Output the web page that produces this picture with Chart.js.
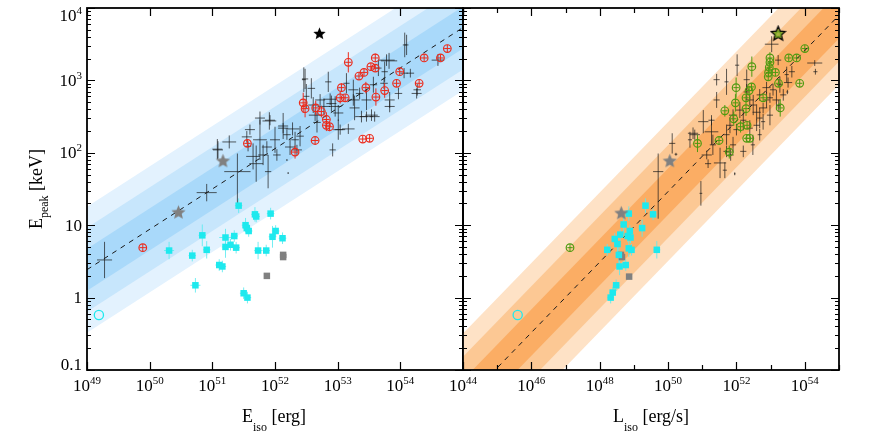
<!DOCTYPE html>
<html>
<head>
<meta charset="utf-8">
<script src="https://cdn.jsdelivr.net/npm/chart.js@4.4.1/dist/chart.umd.min.js"></script>
<style>
  html, body { margin: 0; padding: 0; background: #fff; }
  #wrap { position: relative; width: 873px; height: 436px; }
  #wrap canvas { position: absolute; left: 0; top: 0; }
</style>
</head>
<body>
<div id="wrap">
  <canvas id="leftPanel" width="873" height="436"></canvas>
  <canvas id="rightPanel" width="873" height="436"></canvas>
</div>
<script>
// ---- data (log10 values: [x, y, dx, dy(, dyDown)]) ----

// left panel: Epeak - Eiso
const amatiFitE = [1e49, 1e55];
const amatiFitEp = [2.43, 5370];
const amatiBandDex = [0.29, 0.58, 0.87];

const amatiCrosses = [
  [49.28, 0.52, 0.12, 0.25], [50.91, 1.45, 0.16, 0.12], [51.40, 1.74, 0.21, 0.25, 0.45],
  [51.27, 2.15, 0.11, 0.09], [51.08, 2.05, 0.08, 0.14], [51.57, 2.09, 0.05, 0.07],
  [51.70, 1.85, 0.11, 0.25], [51.76, 2.18, 0.11, 0.28], [51.81, 1.97, 0.08, 0.14],
  [51.89, 1.74, 0.05, 0.23], [51.91, 2.44, 0.11, 0.12], [52.00, 2.18, 0.08, 0.18],
  [52.03, 1.97, 0.06, 0.08], [52.13, 2.37, 0.08, 0.18], [52.19, 2.25, 0.06, 0.07],
  [52.24, 2.08, 0.08, 0.11], [52.28, 2.33, 0.11, 0.09], [52.32, 2.18, 0.06, 0.11],
  [52.35, 2.04, 0.08, 0.07], [52.40, 2.23, 0.06, 0.14], [52.48, 3.02, 0.05, 0.14],
  [52.50, 2.78, 0.05, 0.17], [52.58, 2.89, 0.06, 0.14], [52.61, 2.66, 0.08, 0.11],
  [52.64, 2.52, 0.10, 0.08], [52.67, 2.42, 0.06, 0.14], [52.72, 2.73, 0.08, 0.08],
  [52.78, 2.64, 0.10, 0.11], [52.85, 2.98, 0.05, 0.14], [52.88, 2.74, 0.10, 0.08],
  [52.90, 2.68, 0.08, 0.11], [52.96, 2.64, 0.10, 0.14], [53.01, 2.55, 0.08, 0.11],
  [52.92, 2.04, 0.05, 0.09], [53.01, 2.32, 0.08, 0.14], [53.17, 2.33, 0.10, 0.07],
  [53.14, 2.96, 0.05, 0.14], [53.25, 2.87, 0.08, 0.14], [53.25, 2.73, 0.10, 0.08],
  [53.27, 2.62, 0.08, 0.17], [53.35, 2.82, 0.06, 0.08], [53.38, 2.50, 0.10, 0.08],
  [53.46, 2.73, 0.08, 0.14], [53.54, 2.52, 0.10, 0.08], [53.57, 2.94, 0.06, 0.11],
  [53.65, 3.17, 0.05, 0.11], [53.74, 2.96, 0.06, 0.08], [53.75, 3.12, 0.05, 0.14],
  [53.82, 3.27, 0.13, 0.11], [53.83, 2.73, 0.08, 0.11], [53.97, 2.82, 0.06, 0.08],
  [54.06, 3.10, 0.06, 0.07], [54.10, 3.49, 0.03, 0.14], [54.16, 3.10, 0.06, 0.06],
  [54.27, 2.87, 0.06, 0.08], [54.60, 3.28, 0.10, 0.08], [51.09, 2.04, 0.08, 0.12],
  [51.55, 2.22, 0.08, 0.08], [51.60, 2.32, 0.08, 0.07], [51.65, 1.95, 0.11, 0.18],
  [51.76, 2.48, 0.08, 0.09], [51.92, 2.45, 0.08, 0.07], [51.87, 2.08, 0.08, 0.08],
  [52.13, 2.34, 0.08, 0.07], [52.46, 3.01, 0.03, 0.17], [53.04, 2.32, 0.08, 0.07],
  [53.46, 2.50, 0.11, 0.07], [53.59, 2.50, 0.08, 0.07], [53.83, 2.64, 0.08, 0.08],
  [53.78, 3.28, 0.13, 0.08], [54.07, 3.49, 0.03, 0.17], [54.26, 2.82, 0.08, 0.07],
  [52.19, 1.90, 0.01, 0.01], [52.21, 1.72, 0.01, 0.01]
];

const amatiRedCircles = [
  [49.89, 0.69, 0.05, 0.05], [51.56, 2.13, 0.05, 0.05], [52.32, 2.01, 0.05, 0.09],
  [52.45, 2.69, 0.05, 0.14], [52.48, 2.61, 0.05, 0.12], [52.64, 2.17, 0.05, 0.05],
  [52.65, 2.62, 0.05, 0.10], [52.74, 2.57, 0.05, 0.08], [52.82, 2.46, 0.05, 0.10],
  [52.82, 2.38, 0.05, 0.08], [52.87, 2.36, 0.05, 0.06], [53.04, 2.76, 0.05, 0.08],
  [53.06, 2.90, 0.05, 0.06], [53.12, 2.76, 0.05, 0.05], [53.17, 3.25, 0.05, 0.14],
  [53.34, 3.06, 0.05, 0.05], [53.42, 3.11, 0.05, 0.05], [53.45, 2.90, 0.05, 0.08],
  [53.53, 3.19, 0.05, 0.05], [53.60, 3.17, 0.05, 0.05], [53.60, 3.31, 0.05, 0.06],
  [53.61, 2.77, 0.05, 0.12], [53.40, 2.19, 0.05, 0.05], [53.51, 2.20, 0.05, 0.05],
  [53.75, 2.86, 0.05, 0.10], [53.94, 2.96, 0.05, 0.05], [53.99, 3.12, 0.05, 0.05],
  [54.30, 2.96, 0.05, 0.05], [54.38, 3.31, 0.05, 0.05], [54.64, 3.31, 0.05, 0.05],
  [54.75, 3.44, 0.05, 0.05]
];

const amatiCyanSquares = [
  [51.42, 1.27, 0.06, 0.10], [50.31, 0.65, 0.08, 0.12], [50.68, 0.58, 0.06, 0.08],
  [50.73, 0.17, 0.08, 0.10], [50.84, 0.86, 0.06, 0.15], [50.91, 0.66, 0.06, 0.12],
  [51.11, 0.45, 0.06, 0.08], [51.16, 0.43, 0.06, 0.08], [51.21, 0.83, 0.10, 0.12],
  [51.21, 0.70, 0.06, 0.15], [51.29, 0.73, 0.06, 0.08], [51.35, 0.85, 0.06, 0.08],
  [51.38, 0.69, 0.06, 0.08], [51.50, 0.06, 0.06, 0.08], [51.56, 0.00, 0.06, 0.08],
  [51.53, 1.00, 0.06, 0.10], [51.55, 0.96, 0.06, 0.08], [51.58, 0.92, 0.06, 0.08],
  [51.68, 1.15, 0.06, 0.10], [51.70, 1.12, 0.06, 0.08], [51.73, 0.65, 0.06, 0.12],
  [51.86, 0.65, 0.06, 0.08], [51.93, 1.16, 0.06, 0.08], [51.96, 0.84, 0.06, 0.15],
  [52.01, 0.92, 0.06, 0.08], [52.12, 0.82, 0.06, 0.08]
];
const amatiGreySquares = [[51.87, 0.30], [52.13, 0.59], [52.13, 0.56]];
const amatiCyanCircle = [[49.19, -0.24]];
const amatiGreyStars = [[51.17, 1.89], [50.46, 1.18]];
const amatiBlackStar = [[52.71, 3.65]];

// right panel: Epeak - Liso
const yonFitL = [1e44, 1e55];
const yonFitEp = [0.0349, 7940];
const yonBandDex = [0.32, 0.64, 0.96];

const yonCrosses = [
  [53.03, 3.50, 0.20, 0.11], [54.29, 3.24, 0.22, 0.04], [54.31, 3.12, 0.06, 0.04],
  [53.51, 2.97, 0.12, 0.07], [53.49, 2.84, 0.03, 0.03], [52.02, 3.21, 0.06, 0.15],
  [51.71, 2.98, 0.06, 0.18], [51.03, 2.43, 0.15, 0.16], [51.27, 2.45, 0.09, 0.07],
  [50.78, 2.25, 0.15, 0.07], [51.27, 2.29, 0.20, 0.18], [51.13, 1.97, 0.15, 0.06],
  [51.17, 1.85, 0.09, 0.06], [51.52, 1.86, 0.18, 0.21], [51.66, 1.76, 0.06, 0.11],
  [51.71, 2.02, 0.09, 0.08], [51.83, 1.97, 0.09, 0.08], [51.90, 2.11, 0.09, 0.11],
  [52.20, 2.02, 0.09, 0.08], [50.96, 1.44, 0.04, 0.17], [49.71, 1.74, 0.15, 0.25, 0.65],
  [50.12, 2.13, 0.09, 0.14], [50.23, 1.98, 0.04, 0.02], [51.95, 1.71, 0.02, 0.02],
  [50.73, 2.27, 0.15, 0.08], [53.22, 3.28, 0.09, 0.07], [52.30, 2.84, 0.09, 0.11],
  [52.39, 2.73, 0.12, 0.08], [52.49, 2.66, 0.09, 0.14], [52.59, 2.56, 0.12, 0.11],
  [52.68, 2.80, 0.09, 0.08], [52.68, 2.48, 0.09, 0.14], [52.78, 2.62, 0.12, 0.07],
  [52.88, 2.73, 0.09, 0.11], [52.98, 2.52, 0.09, 0.14], [53.07, 2.87, 0.09, 0.08],
  [53.17, 2.73, 0.12, 0.14], [53.27, 2.94, 0.09, 0.11], [53.37, 2.80, 0.09, 0.08],
  [53.47, 3.08, 0.06, 0.11], [52.10, 2.59, 0.12, 0.11], [52.20, 2.45, 0.09, 0.14],
  [52.00, 2.32, 0.09, 0.08], [51.90, 2.52, 0.12, 0.08], [51.81, 2.38, 0.09, 0.11],
  [51.71, 2.25, 0.09, 0.14], [52.39, 2.34, 0.09, 0.11], [52.59, 2.38, 0.09, 0.08],
  [52.78, 2.43, 0.06, 0.11], [52.98, 2.76, 0.09, 0.07], [51.42, 2.73, 0.09, 0.11],
  [52.30, 3.01, 0.09, 0.14], [52.88, 2.90, 0.12, 0.08], [53.62, 3.12, 0.09, 0.08],
  [52.48, 2.11, 0.06, 0.14], [52.68, 2.25, 0.06, 0.08], [53.24, 2.65, 0.06, 0.08],
  [51.31, 2.11, 0.09, 0.14], [51.42, 3.01, 0.09, 0.08], [50.64, 2.18, 0.06, 0.11]
];

const yonGreenCircles = [
  [54.00, 3.44, 0.08, 0.05], [53.53, 3.31, 0.08, 0.05], [53.76, 3.31, 0.08, 0.05],
  [52.98, 3.31, 0.08, 0.08], [52.98, 3.25, 0.08, 0.05], [52.45, 3.19, 0.08, 0.14],
  [52.96, 3.18, 0.08, 0.05], [53.14, 3.11, 0.08, 0.05], [52.94, 3.11, 0.08, 0.05],
  [52.93, 3.05, 0.08, 0.05], [53.23, 2.96, 0.08, 0.05], [53.85, 2.96, 0.08, 0.05],
  [51.99, 2.90, 0.08, 0.14], [52.44, 2.91, 0.08, 0.05], [52.37, 2.86, 0.08, 0.05],
  [52.28, 2.76, 0.08, 0.05], [52.78, 2.76, 0.08, 0.05], [51.97, 2.69, 0.08, 0.12],
  [52.28, 2.61, 0.08, 0.10], [53.28, 2.62, 0.08, 0.12], [51.66, 2.58, 0.08, 0.08],
  [51.92, 2.47, 0.08, 0.10], [52.12, 2.36, 0.08, 0.08], [52.31, 2.38, 0.08, 0.05],
  [52.30, 2.20, 0.08, 0.05], [52.39, 2.20, 0.08, 0.05], [51.49, 2.17, 0.08, 0.05],
  [50.86, 2.13, 0.08, 0.12], [51.79, 2.01, 0.08, 0.09], [47.13, 0.69, 0.08, 0.05]
];

const yonCyanSquares = [
  [49.34, 1.27, 0.10, 0.10], [48.85, 1.16, 0.10, 0.10], [49.56, 1.15, 0.10, 0.08],
  [48.70, 1.01, 0.10, 0.12], [49.24, 0.96, 0.10, 0.12], [48.88, 0.92, 0.10, 0.08],
  [48.60, 0.87, 0.10, 0.08], [48.82, 0.85, 0.10, 0.08], [48.90, 0.83, 0.10, 0.08],
  [48.44, 0.81, 0.10, 0.08], [48.52, 0.74, 0.10, 0.12], [48.22, 0.66, 0.10, 0.08],
  [48.85, 0.68, 0.10, 0.12], [48.93, 0.66, 0.10, 0.08], [49.67, 0.66, 0.10, 0.12],
  [48.56, 0.59, 0.10, 0.12], [48.76, 0.45, 0.10, 0.08], [48.58, 0.43, 0.10, 0.12],
  [48.48, 0.17, 0.10, 0.08], [48.38, 0.07, 0.10, 0.08], [48.32, 0.00, 0.10, 0.08]
];
const yonGreySquares = [[48.62, 0.59], [48.65, 0.56], [48.86, 0.29]];
const yonCyanCircle = [[45.60, -0.24]];
const yonGreyStars = [[50.05, 1.89], [48.63, 1.17]];
const yonBlackStar = [[53.22, 3.65]];

// axis ticks and labels
const yTickValues = [0.1, 1, 10, 100, 1000, 10000];
const yTickBase = ['0.1', '1', '10', '10', '10', '10'];
const yTickSup = ['', '', '', '2', '3', '4'];
const leftXMajorExp = [49, 50, 51, 52, 53, 54, 55];
const leftXLabelExp = [49, 50, 51, 52, 53, 54];
const rightXMajorExp = [44, 46, 48, 50, 52, 54];
const rightXMinorExp = [45, 47, 49, 51, 53, 55];
const rightXLabelExp = [44, 46, 48, 50, 52, 54];

// ---- helpers ----
const SERIF = "'Liberation Serif', 'Times New Roman', serif";

function toPoints(rows) {
  return rows.map(r => ({ x: Math.pow(10, r[0]), y: Math.pow(10, r[1]) }));
}

function starImage(size, fill, stroke, ring) {
  const c = document.createElement('canvas');
  c.width = c.height = size;
  const g = c.getContext('2d');
  const R = size / 2 - 1, r = R * 0.45, m = size / 2;
  g.beginPath();
  for (let k = 0; k < 10; k++) {
    const a = -Math.PI / 2 + k * Math.PI / 5;
    const rr = k % 2 ? r : R;
    g.lineTo(m + rr * Math.cos(a), m + 0.5 + rr * Math.sin(a));
  }
  g.closePath();
  g.fillStyle = fill;
  g.fill();
  if (stroke) { g.strokeStyle = stroke; g.lineWidth = 1.3; g.stroke(); }
  if (ring) {
    g.beginPath(); g.arc(m, m + 1, 2.8, 0, Math.PI * 2);
    g.strokeStyle = ring; g.lineWidth = 1; g.stroke();
  }
  return c;
}

function bandDatasets(fitX, fitY, dexList, colors) {
  const sets = [];
  dexList.forEach((d, i) => {
    sets.push({
      type: 'line', data: fitX.map((x, k) => ({ x, y: fitY[k] * Math.pow(10, d) })),
      fill: '+1', backgroundColor: colors[i], borderColor: 'transparent',
      borderWidth: 0, pointRadius: 0, order: 10 + i
    });
    sets.push({
      type: 'line', data: fitX.map((x, k) => ({ x, y: fitY[k] / Math.pow(10, d) })),
      fill: false, borderColor: 'transparent', borderWidth: 0, pointRadius: 0, order: 10 + i
    });
  });
  return sets;
}

function fitDataset(fitX, fitY) {
  return {
    type: 'line', data: fitX.map((x, k) => ({ x, y: fitY[k] })),
    borderColor: '#1a1a1a', borderWidth: 1, borderDash: [5, 5],
    pointRadius: 0, fill: false, order: 6
  };
}

function markerSet(rows, style, opts) {
  return Object.assign({
    type: 'scatter', data: toPoints(rows), pointStyle: style,
    errorBars: rows[0] && rows[0].length > 2 ? rows : null
  }, opts);
}

function drawRuns(ctx, runs, x, y, align) {
  let total = 0;
  runs.forEach(r => { ctx.font = r[1] + 'px ' + SERIF; total += ctx.measureText(r[0]).width; });
  let cx = align === 'center' ? x - total / 2 : align === 'right' ? x - total : x;
  runs.forEach(r => {
    ctx.font = r[1] + 'px ' + SERIF;
    ctx.fillText(r[0], cx, y + r[2]);
    cx += ctx.measureText(r[0]).width;
  });
}

// error bars drawn through the chart scales
const errorBarPlugin = {
  id: 'errorBars',
  beforeDatasetsDraw(chart) {
    const { ctx, chartArea: a } = chart;
    const xs = chart.scales.x, ys = chart.scales.y;
    ctx.save();
    ctx.beginPath();
    ctx.rect(a.left, a.top, a.right - a.left, a.bottom - a.top);
    ctx.clip();
    ctx.lineWidth = 1;
    chart.data.datasets.forEach(ds => {
      if (!ds.errorBars) return;
      ctx.strokeStyle = ds.errorColor;
      ds.errorBars.forEach(r => {
        const dyDown = r.length > 4 ? r[4] : r[3];
        const cx = xs.getPixelForValue(Math.pow(10, r[0]));
        const cy = ys.getPixelForValue(Math.pow(10, r[1]));
        ctx.beginPath();
        ctx.moveTo(xs.getPixelForValue(Math.pow(10, r[0] - r[2])), cy);
        ctx.lineTo(xs.getPixelForValue(Math.pow(10, r[0] + r[2])), cy);
        ctx.moveTo(cx, ys.getPixelForValue(Math.pow(10, r[1] + r[3])));
        ctx.lineTo(cx, ys.getPixelForValue(Math.pow(10, r[1] - dyDown)));
        ctx.stroke();
      });
    });
    ctx.restore();
  }
};

// frame, inward ticks, tick labels and axis titles
function framePlugin(cfg) {
  return {
    id: 'frame',
    afterDraw(chart) {
      const { ctx, chartArea: a } = chart;
      const xs = chart.scales.x, ys = chart.scales.y;
      ctx.save();
      ctx.strokeStyle = '#000';
      ctx.lineWidth = 1.2;
      ctx.beginPath();
      for (let e = -1; e <= 4; e++) {
        for (let m = 1; m <= 9; m++) {
          const v = m * Math.pow(10, e);
          if (v > 10001) break;
          const py = Math.round(ys.getPixelForValue(v)) + 0.5;
          const len = m === 1 ? 8 : 4;
          ctx.moveTo(a.left, py); ctx.lineTo(a.left + len, py);
          ctx.moveTo(a.right, py); ctx.lineTo(a.right - len, py);
        }
      }
      const xTick = (exp, len) => {
        const px = Math.round(xs.getPixelForValue(Math.pow(10, exp))) + 0.5;
        ctx.moveTo(px, a.bottom); ctx.lineTo(px, a.bottom - len);
        ctx.moveTo(px, a.top); ctx.lineTo(px, a.top + len);
      };
      cfg.xMajor.forEach(e => xTick(e, 8));
      (cfg.xMinor || []).forEach(e => xTick(e, 5));
      ctx.stroke();

      ctx.lineWidth = 1.8;
      ctx.strokeRect(a.left, a.top, a.right - a.left, a.bottom - a.top);

      ctx.fillStyle = '#000';
      ctx.textBaseline = 'alphabetic';
      ctx.textAlign = 'left';
      cfg.xLabels.forEach(e => {
        const px = xs.getPixelForValue(Math.pow(10, e));
        drawRuns(ctx, [['10', 17, 0], [String(e), 11, -7]], px, a.bottom + 21, 'center');
      });
      if (cfg.yLabels) {
        yTickValues.forEach((v, i) => {
          const py = ys.getPixelForValue(v);
          const base = Math.min(Math.max(py + 5.5, a.top + 12.5), a.bottom);
          const runs = yTickSup[i] ? [[yTickBase[i], 17, 0], [yTickSup[i], 11, -7]] : [[yTickBase[i], 17, 0]];
          drawRuns(ctx, runs, a.left - 5, base, 'right');
        });
        ctx.save();
        ctx.translate(42, 189);
        ctx.rotate(-Math.PI / 2);
        drawRuns(ctx, [['E', 18, 0], ['peak', 12, 6], [' [keV]', 18, 0]], 0, 0, 'center');
        ctx.restore();
      }
      drawRuns(ctx, cfg.title, cfg.titleX, 421.5, 'center');
      ctx.restore();
    }
  };
}

function panelOptions(xMin, xMax, pad) {
  return {
    responsive: false,
    animation: false,
    devicePixelRatio: 1,
    layout: { padding: pad },
    scales: {
      x: { type: 'logarithmic', min: xMin, max: xMax, display: false },
      y: { type: 'logarithmic', min: 0.1, max: 10000, display: false }
    },
    plugins: {
      legend: { display: false },
      tooltip: { enabled: false },
      filler: { drawTime: 'beforeDatasetsDraw' }
    }
  };
}

const crossColor = 'rgba(25,25,25,0.7)';
const cyanColor = '#1ee9ee';
const cyanErr = 'rgba(90,235,240,0.85)';
const redColor = '#ec2b1c';
const greenColor = '#4f9a10';
const greyColor = '#808080';

// ---- left panel ----
new Chart(document.getElementById('leftPanel'), {
  type: 'scatter',
  data: {
    datasets: [
      ...bandDatasets(amatiFitE, amatiFitEp, amatiBandDex, ['#a9d9fa', '#c7e6fc', '#e3f2fe']),
      fitDataset(amatiFitE, amatiFitEp),
      markerSet(amatiCrosses, 'circle', { pointRadius: 0, errorColor: crossColor, order: 5 }),
      markerSet(amatiCyanSquares, 'rect', { pointRadius: 4.6, backgroundColor: cyanColor, borderWidth: 0, errorColor: cyanErr, order: 4 }),
      markerSet(amatiGreySquares, 'rect', { pointRadius: 4.6, backgroundColor: greyColor, borderWidth: 0, order: 4 }),
      markerSet(amatiRedCircles, 'circle', { pointRadius: 3.8, backgroundColor: 'transparent', borderColor: redColor, borderWidth: 1.2, errorColor: redColor, order: 3 }),
      markerSet(amatiCyanCircle, 'circle', { pointRadius: 4.6, backgroundColor: 'transparent', borderColor: cyanColor, borderWidth: 1.3, order: 3 }),
      markerSet(amatiGreyStars, starImage(17, greyColor), { pointRadius: 6, order: 2 }),
      markerSet(amatiBlackStar, starImage(15, '#000'), { pointRadius: 6, order: 1 })
    ]
  },
  options: panelOptions(1e49, 1e55, { left: 87, right: 410, top: 8, bottom: 66 }),
  plugins: [errorBarPlugin, framePlugin({
    xMajor: leftXMajorExp, xLabels: leftXLabelExp, yLabels: true,
    title: [['E', 18, 0], ['iso', 12, 9], [' [erg]', 18, 0]], titleX: 274
  })]
});

// ---- right panel ----
new Chart(document.getElementById('rightPanel'), {
  type: 'scatter',
  data: {
    datasets: [
      ...bandDatasets(yonFitL, yonFitEp, yonBandDex, ['#fbad64', '#fcc894', '#fee2c6']),
      fitDataset(yonFitL, yonFitEp),
      markerSet(yonCrosses, 'circle', { pointRadius: 0, errorColor: crossColor, order: 5 }),
      markerSet(yonCyanSquares, 'rect', { pointRadius: 4.6, backgroundColor: cyanColor, borderWidth: 0, errorColor: cyanErr, order: 4 }),
      markerSet(yonGreySquares, 'rect', { pointRadius: 4.6, backgroundColor: greyColor, borderWidth: 0, order: 4 }),
      markerSet(yonGreenCircles, 'circle', { pointRadius: 3.8, backgroundColor: 'transparent', borderColor: greenColor, borderWidth: 1.2, errorColor: greenColor, order: 3 }),
      markerSet(yonCyanCircle, 'circle', { pointRadius: 4.6, backgroundColor: 'transparent', borderColor: cyanColor, borderWidth: 1.3, order: 3 }),
      markerSet(yonGreyStars, starImage(17, greyColor), { pointRadius: 6, order: 2 }),
      markerSet(yonBlackStar, starImage(17, '#a5b33e', '#000', greenColor), { pointRadius: 6, order: 1 })
    ]
  },
  options: panelOptions(1e44, 1e55, { left: 463, right: 34, top: 8, bottom: 66 }),
  plugins: [errorBarPlugin, framePlugin({
    xMajor: rightXMajorExp, xMinor: rightXMinorExp, xLabels: rightXLabelExp, yLabels: false,
    title: [['L', 18, 0], ['iso', 12, 9], [' [erg/s]', 18, 0]], titleX: 651
  })]
});
</script>
</body>
</html>
